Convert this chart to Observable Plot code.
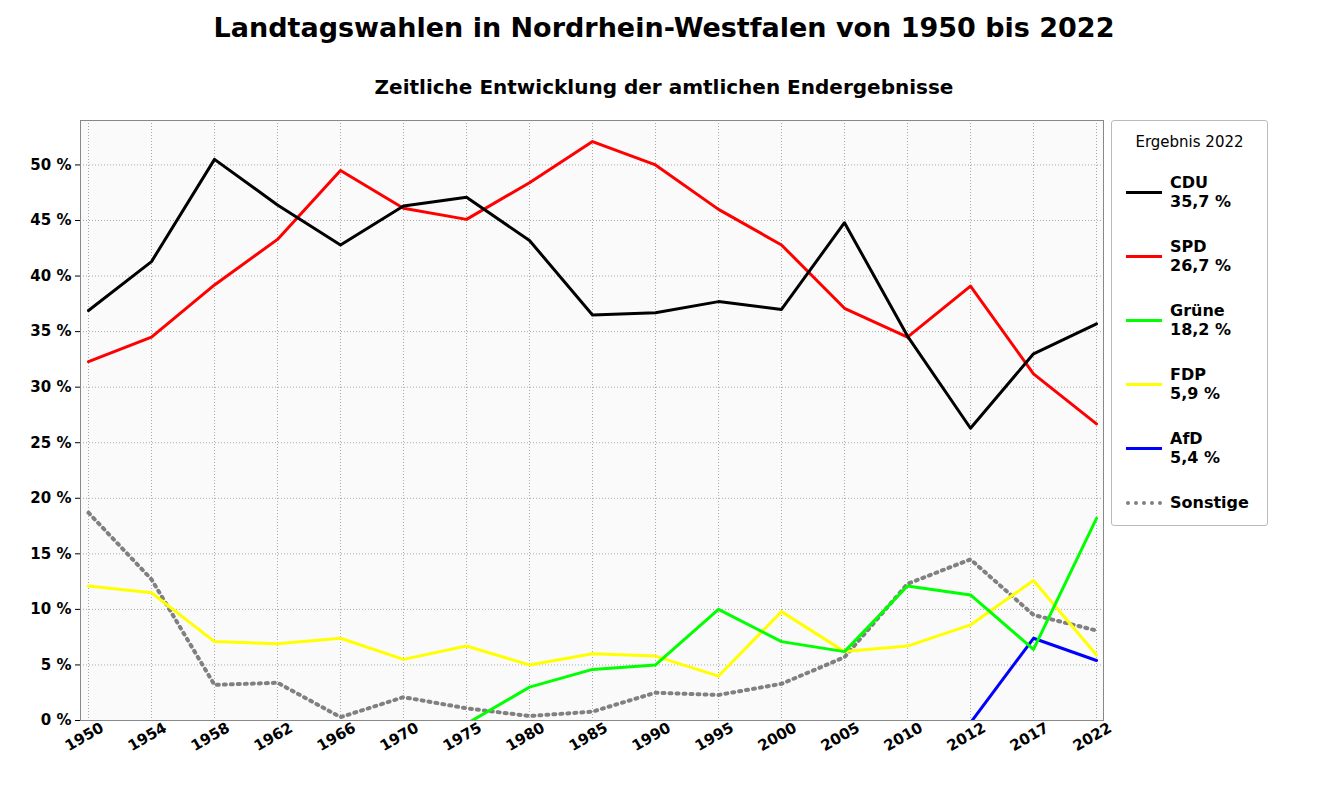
<!DOCTYPE html>
<html><head><meta charset="utf-8">
<script src="https://cdn.jsdelivr.net/npm/d3@7"></script>
<script src="https://cdn.jsdelivr.net/npm/@observablehq/plot@0.6"></script>
<style>
body{margin:0;font-family:"DejaVu Sans",sans-serif;background:#fff}
#wrap{position:relative;width:1328px;height:800px}
#t{position:absolute;top:12px;left:0;width:1328px;text-align:center;font-weight:bold;font-size:27px}
#s{position:absolute;top:75px;left:0;width:1328px;text-align:center;font-weight:bold;font-size:20px}
#lg{position:absolute;left:1111px;top:120px;width:155px;height:404px;border:1px solid #bbb;border-radius:3px;background:#fff;font-size:16px}
.it{position:absolute;left:14px;display:flex;align-items:center;font-weight:bold}
.sw{width:36px;height:0;margin-right:8px}
#chart{position:absolute;top:0;left:0}
</style></head><body>
<div id="wrap"><div id="chart"></div>
<div id="t">Landtagswahlen in Nordrhein-Westfalen von 1950 bis 2022</div>
<div id="s">Zeitliche Entwicklung der amtlichen Endergebnisse</div>
<div id="lg"></div></div>
<script>
const years=["1950","1954","1958","1962","1966","1970","1975","1980","1985","1990","1995","2000","2005","2010","2012","2017","2022"];
const cdu=[36.9,41.3,50.5,46.4,42.8,46.3,47.1,43.2,36.5,36.7,37.7,37.0,44.8,34.6,26.3,33.0,35.7];
const spd=[32.3,34.5,39.2,43.3,49.5,46.1,45.1,48.4,52.1,50.0,46.0,42.8,37.1,34.5,39.1,31.2,26.7];
const gruene=[null,null,null,null,null,null,-0.3,3.0,4.6,5.0,10.0,7.1,6.2,12.1,11.3,6.4,18.2];
const fdp=[12.1,11.5,7.1,6.9,7.4,5.5,6.7,5.0,6.0,5.8,4.0,9.8,6.2,6.7,8.6,12.6,5.9];
const afd=[null,null,null,null,null,null,null,null,null,null,null,null,null,null,-0.2,7.4,5.4];
const sonst=[18.7,12.7,3.2,3.4,0.3,2.1,1.1,0.4,0.8,2.5,2.3,3.3,5.7,12.3,14.5,9.5,8.1];
const series=[
 {name:"CDU",res:"35,7 %",v:cdu,c:"#000"},
 {name:"SPD",res:"26,7 %",v:spd,c:"#ff0000"},
 {name:"Grüne",res:"18,2 %",v:gruene,c:"#00ff00"},
 {name:"FDP",res:"5,9 %",v:fdp,c:"#ffff00"},
 {name:"AfD",res:"5,4 %",v:afd,c:"#0000ff"},
 {name:"Sonstige",res:"",v:sonst,c:"#808080",dash:true}];
const marks=[
 Plot.frame({fill:"#fafafa",stroke:null}),
 Plot.gridX({stroke:"#aaa",strokeOpacity:1,strokeDasharray:"1,2"}),
 Plot.gridY({stroke:"#aaa",strokeOpacity:1,strokeDasharray:"1,2",ticks:d3.range(0,55,5)}),
];
for(const s of series.slice().reverse()){
 const d=years.map((y,i)=>({y,v:s.v[i]})).filter(d=>d.v!=null);
 marks.push(Plot.line(d,{x:"y",y:"v",stroke:s.c,strokeWidth:s.dash?4:3,strokeDasharray:s.dash?"2,5":null,clip:true}));
}
marks.push(Plot.frame({stroke:"#888"}));
marks.push(Plot.axisX({tickRotate:-30,tickSize:0,tickPadding:6,dx:14,fontSize:15,fontWeight:"bold",textAnchor:"end"}));
marks.push(Plot.axisY({ticks:d3.range(0,55,5),tickFormat:d=>d+" %",tickSize:5,fontSize:15,fontWeight:"bold"}));
const p=Plot.plot({width:1328,height:800,marginTop:120,marginBottom:80,marginLeft:80,marginRight:225,
 x:{type:"point",domain:years,padding:0,inset:0,label:null},
 y:{domain:[0,54],label:null},
 style:{fontFamily:"DejaVu Sans",color:"#000"},marks});
document.getElementById("chart").append(p);
const lg=document.getElementById("lg");
lg.innerHTML='<div style="position:absolute;top:12px;width:100%;text-align:center;font-size:15px">Ergebnis 2022</div>';
series.forEach((s,i)=>{
 const top=52+i*64;
 const sw=s.dash?`border-top:4px dotted ${s.c}`:`border-top:3px solid ${s.c}`;
 lg.innerHTML+=`<div class="it" style="top:${top}px"><div class="sw" style="${sw}"></div><div>${s.name}${s.res?"<br>"+s.res:""}</div></div>`;
});
</script></body></html>
